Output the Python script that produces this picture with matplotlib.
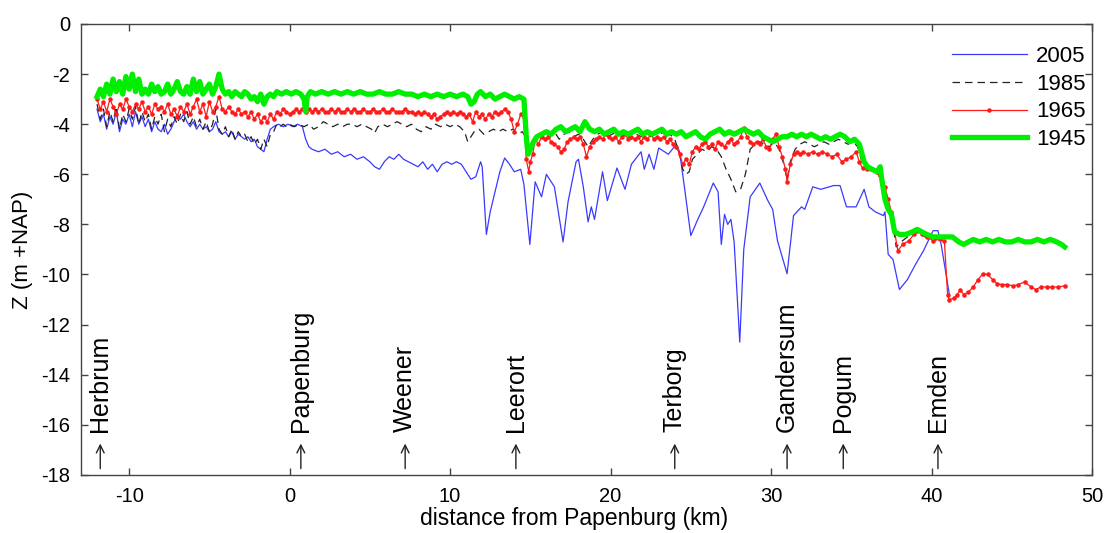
import matplotlib
matplotlib.use("Agg")
import matplotlib.pyplot as plt

plt.rcParams['font.family'] = ['Liberation Sans', 'DejaVu Sans']
plt.rcParams['axes.unicode_minus'] = False

# ---- bed level profiles along the Ems (distance from Papenburg, km ; Z in m +NAP) ----
x_2005 = [-12.0, -11.8, -11.6, -11.4, -11.2, -11.0, -10.8, -10.6, -10.4, -10.2, -10.0, -9.8, -9.6, -9.4,
          -9.2, -9.0, -8.8, -8.6, -8.4, -8.2, -8.0, -7.8, -7.6, -7.4, -7.2, -7.0, -6.8, -6.6, -6.4, -6.2,
          -6.0, -5.8, -5.6, -5.4, -5.2, -5.0, -4.8, -4.6, -4.4, -4.2, -4.0, -3.8, -3.6, -3.4, -3.2, -3.0,
          -2.8, -2.6, -2.4, -2.2, -2.0, -1.8, -1.6, -1.4, -1.2, -1.0, -0.7, -0.4, -0.1, 0.2, 0.5, 0.8,
          1.0, 1.2, 1.4, 1.8, 2.2, 2.6, 3.0, 3.4, 3.8, 4.2, 4.6, 5.0, 5.3, 5.6, 5.9, 6.2, 6.5, 6.8, 7.1,
          7.4, 7.7, 8.0, 8.3, 8.6, 8.9, 9.2, 9.5, 9.8, 10.1, 10.4, 10.7, 11.0, 11.3, 11.6, 11.9, 12.0,
          12.26, 12.5, 12.8, 13.1, 13.4, 13.7, 14.0, 14.4, 14.6, 14.97, 15.3, 15.7, 16.0, 16.3, 16.5,
          17.04, 17.35, 17.85, 18.0, 18.3, 18.6, 18.8, 19.0, 19.5, 19.8, 20.4, 20.9, 21.3, 21.9, 22.1,
          22.4, 22.7, 23.0, 23.6, 24.1, 24.3, 24.6, 25.0, 25.4, 25.8, 26.4, 26.7, 26.9, 27.1, 27.3, 27.5,
          27.7, 28.05, 28.3, 28.7, 29.3, 29.8, 30.1, 30.4, 31.0, 31.4, 31.9, 32.1, 32.6, 33.1, 33.9, 34.3,
          34.7, 35.3, 35.8, 36.1, 36.5, 37.0, 37.1, 37.3, 37.6, 38.0, 38.5, 39.0, 39.5, 40.1, 40.4, 40.6,
          41.1]
z_2005 = [-3.4, -3.9, -3.6, -4.2, -3.7, -4.0, -3.5, -4.3, -3.8, -4.0, -3.6, -4.1, -3.5, -4.0,
          -3.7, -4.1, -3.8, -4.3, -3.9, -4.2, -4.3, -4.0, -4.4, -4.2, -3.9, -3.6, -3.8, -3.6, -3.9, -4.1,
          -3.9, -4.2, -4.0, -4.2, -4.1, -4.3, -4.2, -3.9, -4.3, -4.4, -4.3, -4.5, -4.3, -4.6, -4.4, -4.5,
          -4.6, -4.5, -4.7, -4.6, -4.9, -5.0, -5.1, -4.6, -4.2, -4.1, -4.0, -4.1, -4.0, -4.1, -4.0, -4.1,
          -4.6, -4.9, -5.0, -5.1, -5.0, -5.2, -5.1, -5.3, -5.2, -5.4, -5.3, -5.5, -5.7, -5.8, -5.5, -5.3,
          -5.4, -5.2, -5.4, -5.5, -5.6, -5.7, -5.5, -5.8, -5.6, -5.9, -5.6, -5.5, -5.6, -5.5, -5.6, -5.9,
          -6.2, -6.1, -5.5, -5.7, -8.4, -7.5, -6.7, -5.9, -5.35, -5.6, -5.9, -5.8, -6.4, -8.8, -6.3, -6.9,
          -6.0, -6.3, -6.5, -8.7, -7.1, -5.5, -5.4, -6.5, -7.9, -7.3, -7.8, -5.9, -7.05, -5.75, -6.6, -5.6,
          -5.1, -5.8, -5.2, -5.8, -4.95, -5.2, -4.8, -5.1, -6.5, -8.45, -7.85, -7.3, -6.35, -6.7, -8.8,
          -7.6, -8.0, -7.8, -8.7, -12.7, -9.0, -6.9, -6.35, -7.05, -7.4, -8.65, -9.97, -7.65, -7.3, -7.4,
          -6.5, -6.6, -6.45, -6.45, -7.3, -7.3, -6.6, -7.3, -7.5, -7.65, -7.5, -9.2, -9.4, -10.6, -10.2,
          -9.6, -9.05, -8.25, -8.25, -8.8, -10.75]

x_1985 = [-12.0, -11.8, -11.6, -11.4, -11.2, -11.0, -10.8, -10.6, -10.4, -10.2, -10.0, -9.8, -9.6, -9.4,
          -9.2, -9.0, -8.8, -8.6, -8.4, -8.2, -8.0, -7.8, -7.6, -7.4, -7.2, -7.0, -6.8, -6.6, -6.4, -6.2,
          -6.0, -5.8, -5.6, -5.4, -5.2, -5.0, -4.8, -4.6, -4.4, -4.2, -4.0, -3.8, -3.6, -3.4, -3.2, -3.0,
          -2.8, -2.6, -2.4, -2.2, -2.0, -1.8, -1.6, -1.4, -1.2, -1.0, -0.8, -0.6, -0.4, -0.2,
          0.0, 0.3, 0.6, 0.9, 1.2, 1.5, 1.8, 2.1, 2.4, 2.7, 3.0, 3.3, 3.6, 3.9, 4.2, 4.5, 4.8, 5.1, 5.3,
          5.5, 5.8, 6.1, 6.4, 6.7, 7.0, 7.3, 7.6, 7.9, 8.2, 8.5, 8.8, 9.1, 9.4, 9.7, 10.0, 10.3, 10.6,
          10.9, 11.1, 11.3, 11.5, 11.8, 12.1, 12.4, 12.7, 13.0, 13.3, 13.6, 13.9, 14.2, 14.5, 14.7, 14.9,
          15.1, 15.3, 15.6, 15.9, 16.2, 16.5, 16.8, 17.1, 17.4, 17.7, 18.0, 18.3, 18.6, 18.9, 19.2, 19.5,
          19.8, 20.1, 20.4, 20.7, 21.0, 21.3, 21.6, 21.9, 22.2, 22.5, 22.8, 23.1, 23.4, 23.7, 24.0, 24.3,
          24.5, 24.7, 24.9, 25.1, 25.4, 25.7, 26.0, 26.3, 26.6, 26.9, 27.2, 27.5, 27.8, 28.1, 28.4, 28.7,
          29.0, 29.3, 29.6, 29.9, 30.2, 30.5, 30.8, 31.0, 31.2, 31.5, 31.8, 32.1, 32.4, 32.7, 33.0, 33.3,
          33.6, 33.9, 34.2, 34.5, 34.8, 35.1, 35.4, 35.7, 36.0, 36.3, 36.6, 36.9, 37.2, 37.5, 37.8, 38.1,
          38.5, 38.9, 39.2, 39.6, 40.0, 40.4, 40.8]
z_1985 = [-3.2, -3.8, -3.4, -4.1, -3.5, -3.9, -3.3, -4.2, -3.6, -3.9, -3.4, -3.8, -3.3, -4.0,
          -3.5, -3.9, -3.6, -4.2, -3.7, -4.0, -3.6, -4.3, -3.8, -4.1, -3.7, -4.0, -3.6, -3.9, -3.5, -4.0,
          -3.7, -4.1, -3.8, -4.2, -3.9, -4.3, -4.0, -3.4, -4.2, -4.4, -4.1, -4.5, -4.2, -4.6, -4.3, -4.5,
          -4.4, -4.7, -4.5, -4.8, -4.6, -5.0, -4.6, -4.9, -4.4, -4.3, -4.0, -4.1, -4.0, -4.1,
          -4.0, -4.1, -4.0, -4.1, -4.0, -4.2, -4.1, -3.9, -4.0, -4.1, -4.0, -4.1, -4.0, -4.0, -4.1, -4.0,
          -4.1, -4.2, -4.35, -4.1, -4.0, -4.1, -4.0, -3.9, -4.0, -4.1, -4.0, -4.2, -4.3, -4.1, -4.2, -4.0,
          -4.1, -4.0, -4.1, -4.0, -4.1, -4.3, -4.7, -4.5, -4.3, -4.2, -4.4, -4.3, -4.2, -4.3, -4.2, -4.3,
          -4.2, -4.4, -4.3, -4.5, -5.0, -4.8, -4.5, -4.4, -4.3, -4.5, -4.3, -4.6, -4.4, -4.3, -4.5, -4.4,
          -4.6, -4.9, -4.6, -4.4, -4.3, -4.5, -4.4, -4.3, -4.5, -4.4, -4.6, -4.4, -4.5, -4.3, -4.5, -4.4,
          -4.3, -4.5, -4.4, -4.6, -5.2, -5.8, -6.0, -5.9, -5.4, -5.2, -5.0, -5.1, -4.9, -5.0, -5.3, -5.8,
          -6.2, -6.7, -6.6, -6.0, -5.0, -4.8, -4.7, -4.8, -4.9, -4.7, -5.0, -5.6, -6.2, -5.5, -5.0, -4.8,
          -4.7, -4.8, -4.9, -4.8, -4.7, -4.8, -4.7, -4.6, -4.7, -4.8, -4.7, -4.9, -5.6, -5.8, -5.9, -5.9,
          -6.3, -7.0, -7.6, -8.9, -8.7, -8.5, -8.3, -8.3, -8.5, -8.6, -8.6, -8.65]

x_1965 = [-12.0, -11.8, -11.6, -11.4, -11.2, -11.0, -10.8, -10.6, -10.4, -10.2, -10.0, -9.8, -9.6, -9.4,
          -9.2, -9.0, -8.8, -8.6, -8.4, -8.2, -8.0, -7.8, -7.6, -7.4, -7.2, -7.0, -6.8, -6.6, -6.4, -6.2,
          -6.0, -5.8, -5.6, -5.4, -5.2, -5.0, -4.8, -4.6, -4.4, -4.2, -4.0, -3.8, -3.6, -3.4, -3.2, -3.0,
          -2.8, -2.6, -2.4, -2.2, -2.0, -1.8, -1.6, -1.4, -1.2, -1.0, -0.8, -0.6, -0.4, -0.2, 0.0, 0.2,
          0.4, 0.6, 0.8, 1.0, 1.2, 1.4, 1.6, 1.8, 2.0, 2.2, 2.4, 2.6, 2.8, 3.0, 3.2, 3.4, 3.6, 3.8, 4.0,
          4.2, 4.4, 4.6, 4.8, 5.0, 5.2, 5.4, 5.6, 5.8, 6.0, 6.2, 6.4, 6.6, 6.8, 7.0, 7.2, 7.4, 7.6, 7.8,
          8.0, 8.2, 8.4, 8.6, 8.8, 9.0, 9.2, 9.4, 9.6, 9.8, 10.0, 10.2, 10.4, 10.6, 10.8, 11.0, 11.2,
          11.4, 11.6, 11.8, 12.0, 12.2, 12.4, 12.6, 12.8, 13.0, 13.2, 13.4, 13.6, 13.8, 14.0, 14.2, 14.4,
          14.6, 14.75, 14.9, 15.0, 15.15, 15.3, 15.5, 15.7, 15.9, 16.1, 16.3, 16.5, 16.7, 16.9, 17.1,
          17.3, 17.5, 17.7, 17.9, 18.1, 18.3, 18.5, 18.7, 18.9, 19.1, 19.3, 19.5, 19.7, 19.9, 20.1, 20.3,
          20.5, 20.7, 20.9, 21.1, 21.3, 21.5, 21.7, 21.9, 22.1, 22.3, 22.5, 22.7, 22.9, 23.1, 23.3, 23.5,
          23.7, 23.9, 24.1, 24.3, 24.5, 24.7, 24.9, 25.1, 25.3, 25.5, 25.7, 25.9, 26.1, 26.3, 26.5, 26.7,
          26.9, 27.1, 27.3, 27.5, 27.7, 27.9, 28.1, 28.3, 28.5, 28.7, 28.9, 29.1, 29.3, 29.5, 29.7, 29.9,
          30.1, 30.3, 30.5, 30.7, 30.9, 31.0, 31.2, 31.4, 31.6, 31.8, 32.0, 32.3, 32.6, 32.9, 33.2, 33.5,
          33.8, 34.1, 34.4, 34.7, 35.0, 35.3, 35.5, 35.7, 36.0, 36.3, 36.6, 36.9, 37.1, 37.3, 37.5, 37.7,
          37.9, 38.2, 38.6, 38.9, 39.1, 39.4, 39.7, 40.1, 40.5, 40.8, 41.0, 41.1, 41.4, 41.6, 41.8, 42.0,
          42.3, 42.6, 42.9, 43.2, 43.5, 43.8, 44.1, 44.4, 44.7, 45.1, 45.4, 45.8, 46.2, 46.5, 46.8, 47.2,
          47.5, 47.9, 48.3]
z_1965 = [-3.0, -3.4, -3.1, -3.5, -3.0, -3.3, -3.6, -3.2, -3.4, -3.0, -3.3, -3.5, -3.2, -3.4,
          -3.1, -3.5, -3.3, -3.6, -3.2, -3.4, -3.3, -3.5, -3.2, -3.6, -3.4, -3.7, -3.3, -3.5, -3.2, -3.6,
          -3.3, -3.0, -3.5, -3.2, -3.7, -3.1, -3.5, -3.3, -2.9, -3.4, -3.5, -3.3, -3.5, -3.6, -3.4, -3.6,
          -3.5, -3.7, -3.5, -3.8, -3.6, -3.9, -3.7, -3.9, -3.6, -3.8, -3.5, -3.6, -3.4, -3.5, -3.6, -3.5,
          -3.4, -3.5, -3.4, -3.5, -3.4, -3.5, -3.4, -3.5, -3.4, -3.5, -3.5, -3.4, -3.5, -3.4, -3.5, -3.5,
          -3.4, -3.5, -3.4, -3.5, -3.5, -3.4, -3.5, -3.5, -3.4, -3.5, -3.5, -3.4, -3.5, -3.5, -3.4, -3.5,
          -3.5, -3.5, -3.4, -3.5, -3.5, -3.6, -3.5, -3.6, -3.5, -3.6, -3.7, -3.6, -3.8, -3.7, -3.6, -3.5,
          -3.6, -3.5, -3.6, -3.5, -3.6, -3.7, -3.6, -3.9, -3.5, -3.7, -3.6, -3.8, -3.6, -3.7, -3.5, -3.6,
          -3.5, -3.4, -3.5, -3.8, -4.3, -4.0, -3.6, -3.7, -5.4, -5.9, -5.5, -5.2, -4.6, -4.8, -4.5, -4.6,
          -4.5, -4.7, -4.8, -4.9, -5.1, -5.0, -4.7, -4.6, -4.5, -4.6, -4.5, -4.8, -5.3, -4.9, -4.7, -4.6,
          -4.5, -4.6, -4.4, -4.5, -4.6, -4.5, -4.7, -4.5, -4.4, -4.6, -4.5, -4.6, -4.5, -4.7, -4.5, -4.6,
          -4.4, -4.6, -4.5, -4.6, -4.5, -4.7, -4.6, -4.8, -4.9, -5.2, -5.6, -5.4, -5.6, -5.1, -4.9, -5.0,
          -4.8, -4.7, -4.9, -4.8, -5.0, -4.7, -4.8, -4.9, -4.7, -4.6, -4.8, -4.7, -4.5, -4.15, -4.5, -4.7,
          -4.8, -4.7, -4.8, -4.6, -4.9, -5.0, -4.6, -4.4, -4.9, -5.3, -5.8, -6.3, -5.6, -5.2, -5.1, -5.2,
          -5.1, -5.2, -5.1, -5.2, -5.1, -5.2, -5.3, -5.2, -5.5, -5.4, -5.3, -5.1, -5.5, -5.75, -5.8, -5.8,
          -5.9, -6.3, -6.5, -7.0, -7.5, -8.3, -9.05, -8.8, -8.65, -8.4, -8.25, -8.4, -8.5, -8.65, -8.6,
          -8.65, -10.8, -11.0, -10.95, -10.8, -10.6, -10.8, -10.7, -10.5, -10.2, -9.97, -10.0, -10.2,
          -10.37, -10.4, -10.4, -10.45, -10.4, -10.3, -10.5, -10.6, -10.5, -10.5, -10.5, -10.5, -10.45]

x_1945 = [-12.0, -11.8, -11.6, -11.4, -11.2, -11.0, -10.8, -10.6, -10.4, -10.2, -10.0, -9.8, -9.6, -9.4,
          -9.2, -9.0, -8.8, -8.6, -8.4, -8.2, -8.0, -7.8, -7.6, -7.4, -7.2, -7.0, -6.8, -6.6, -6.4, -6.2,
          -6.0, -5.8, -5.6, -5.4, -5.2, -5.0, -4.8, -4.6, -4.4, -4.2, -4.0, -3.8, -3.6, -3.4, -3.2, -3.0,
          -2.8, -2.6, -2.4, -2.2, -2.0, -1.8, -1.6, -1.4, -1.2, -1.0, -0.8, -0.5, -0.2, 0.1, 0.4, 0.7,
          0.9, 1.0, 1.1, 1.3, 1.6, 2.0, 2.4, 2.8, 3.2, 3.6, 4.0, 4.4, 4.8, 5.2, 5.6, 6.0, 6.4, 6.8, 7.2,
          7.6, 8.0, 8.4, 8.8, 9.2, 9.6, 10.0, 10.4, 10.8, 11.1, 11.3, 11.5, 11.7, 11.9, 12.2, 12.5, 12.8,
          13.1, 13.4, 13.7, 14.0, 14.3, 14.6, 14.75, 14.85, 15.0, 15.2, 15.4, 15.7, 16.0, 16.3, 16.6,
          16.9, 17.2, 17.5, 17.8, 18.1, 18.4, 18.7, 19.0, 19.3, 19.6, 19.9, 20.2, 20.5, 20.8, 21.1, 21.4,
          21.7, 22.0, 22.3, 22.6, 22.9, 23.2, 23.5, 23.8, 24.1, 24.4, 24.7, 25.0, 25.3, 25.6, 25.9, 26.2,
          26.5, 26.8, 27.1, 27.4, 27.7, 28.0, 28.3, 28.6, 28.9, 29.2, 29.5, 29.8, 30.1, 30.4, 30.7, 31.0,
          31.3, 31.6, 31.9, 32.2, 32.5, 32.8, 33.1, 33.4, 33.7, 34.0, 34.3, 34.6, 34.9, 35.2, 35.5, 35.8,
          36.0, 36.3, 36.6, 36.8, 36.9, 37.1, 37.3, 37.5, 37.7, 38.0, 38.4, 38.8, 39.1, 39.4, 39.7, 40.1,
          40.5, 40.9, 41.3, 41.7, 42.0, 42.3, 42.6, 43.0, 43.4, 43.8, 44.2, 44.6, 45.0, 45.4, 45.8, 46.2,
          46.6, 47.0, 47.4, 47.8, 48.1, 48.3]
z_1945 = [-2.9, -2.6, -2.9, -2.4, -2.8, -2.2, -2.7, -2.3, -2.8, -2.1, -2.6, -2.0, -2.7, -2.2,
          -2.8, -2.6, -2.8, -2.4, -2.7, -2.5, -2.8, -2.7, -2.4, -2.8, -2.6, -2.3, -2.7, -2.8, -2.5, -2.8,
          -2.2, -2.7, -2.3, -2.8, -2.6, -2.4, -2.8, -2.5, -2.0, -2.6, -2.8, -2.7, -2.9, -2.7, -2.8, -2.9,
          -2.7, -2.8, -3.0, -2.9, -3.1, -2.8, -3.2, -2.9, -2.8, -2.9, -2.7, -2.8, -2.7, -2.8, -2.7, -2.8,
          -3.0, -3.5, -2.9, -2.7, -2.8, -2.7, -2.8, -2.7, -2.8, -2.7, -2.8, -2.7, -2.8, -2.8, -2.7, -2.8,
          -2.8, -2.7, -2.8, -2.8, -2.9, -2.8, -2.9, -2.8, -2.9, -2.8, -2.9, -2.8, -2.9, -3.2, -3.1, -2.8,
          -2.7, -2.9, -2.8, -3.0, -2.9, -2.8, -2.9, -3.0, -2.9, -3.0, -4.5, -5.2, -5.0, -4.7, -4.5, -4.4,
          -4.3, -4.4, -4.2, -4.1, -4.3, -4.2, -4.1, -4.3, -3.9, -4.2, -4.3, -4.2, -4.4, -4.3, -4.2, -4.4,
          -4.3, -4.4, -4.3, -4.2, -4.4, -4.3, -4.4, -4.3, -4.2, -4.4, -4.3, -4.4, -4.3, -4.5, -4.4, -4.3,
          -4.5, -4.6, -4.4, -4.3, -4.2, -4.4, -4.3, -4.4, -4.3, -4.2, -4.3, -4.4, -4.3, -4.5, -4.6, -4.7,
          -4.6, -4.5, -4.5, -4.4, -4.5, -4.4, -4.5, -4.4, -4.5, -4.6, -4.5, -4.6, -4.5, -4.4, -4.5, -4.7,
          -4.6, -4.8, -5.5, -5.7, -5.8, -5.9, -5.7, -6.2, -7.0, -7.4, -7.6, -8.3, -8.4, -8.4, -8.3, -8.2,
          -8.3, -8.4, -8.5, -8.5, -8.5, -8.5, -8.7, -8.8, -8.7, -8.6, -8.7, -8.6, -8.7, -8.6, -8.7, -8.7,
          -8.6, -8.7, -8.7, -8.6, -8.7, -8.6, -8.7, -8.8, -8.9]

# ---- reference locations along the estuary ----
place_names = ['Herbrum', 'Papenburg', 'Weener', 'Leerort', 'Terborg', 'Gandersum', 'Pogum', 'Emden']
place_km = [-11.8, 0.7, 7.2, 14.1, 24.0, 31.0, 34.5, 40.4]

x_ticks = [-10, 0, 10, 20, 30, 40, 50]
y_ticks = [0, -2, -4, -6, -8, -10, -12, -14, -16, -18]

fig = plt.figure(figsize=(11.11, 5.33), dpi=100)
ax = fig.add_axes([0.0729, 0.109, 0.910, 0.846])

ax.plot(x_2005, z_2005, color='#3a3aff', lw=0.9, label='2005', zorder=2)
ax.plot(x_1985, z_1985, color='#222222', lw=0.9, ls=(0, (6, 4)), label='1985', zorder=3)
ax.plot(x_1965, z_1965, color='#ff1a1a', lw=0.9, marker='.', ms=4.5, label='1965', zorder=4)
ax.plot(x_1945, z_1945, color='#00ee00', lw=3.8, label='1945', zorder=5)

for name, km in zip(place_names, place_km):
    ax.text(km, -16.3, name, rotation=90, ha='center', va='bottom', fontsize=18)
    ax.annotate('', xy=(km, -16.75), xytext=(km, -17.75),
                arrowprops=dict(arrowstyle='->', lw=1.0, color='#222222',
                                mutation_scale=14, shrinkA=0, shrinkB=0))

ax.set_xlim(-13, 50)
ax.set_ylim(-18, 0)
ax.set_xticks(x_ticks)
ax.set_yticks(y_ticks)
ax.tick_params(direction='in', top=True, right=True, length=5, width=1,
               labelsize=14.5, color='#444444')
ax.tick_params(axis='x', pad=9)
ax.tick_params(axis='y', pad=8)
for s in ax.spines.values():
    s.set_color('#444444')
    s.set_linewidth(1.0)

ax.set_xlabel('distance from Papenburg (km)', fontsize=16.5)
ax.xaxis.set_label_coords(0.4876, -0.071)
ax.set_ylabel('Z (m +NAP)', fontsize=16, labelpad=6)

leg = ax.legend(loc='upper right', bbox_to_anchor=(1.009, 0.9856), frameon=False,
                fontsize=16, handlelength=3.4, labelspacing=0.3, handletextpad=0.4,
                borderaxespad=0.3)

fig.savefig('out.png', dpi=100)
